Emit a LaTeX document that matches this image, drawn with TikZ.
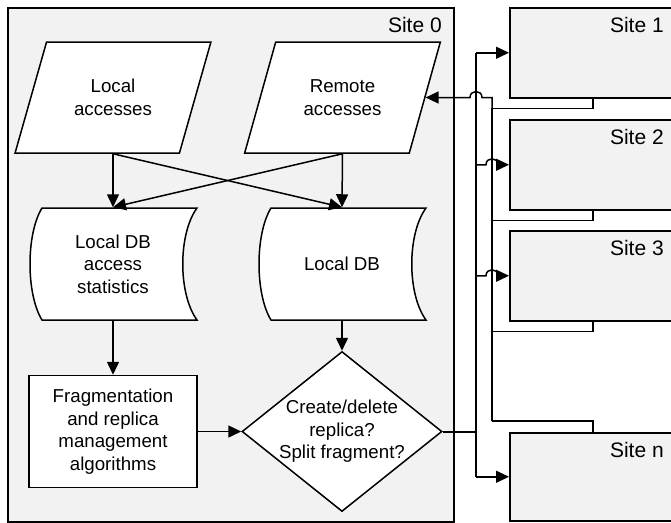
\documentclass[tikz,border=0pt]{standalone}
\usepackage{fontspec}
\setmainfont{Liberation Sans}
\usetikzlibrary{arrows.meta,calc,positioning,shapes.geometric}
\definecolor{sitefill}{HTML}{F2F2F2}

% stored-data outline, centred at (#1,#2)
\newcommand{\storeoutline}[2]{%
  \draw[fill=white] (#1-71,#2-56) -- (#1+84,#2-56)
    .. controls (#1+65,#2-30) and (#1+65,#2+30) .. (#1+84,#2+56)
    -- (#1-71,#2+56)
    .. controls (#1-87,#2+30) and (#1-87,#2-30) .. (#1-71,#2-56) -- cycle;}

\begin{document}
\begin{tikzpicture}[x=1pt,y=-1pt,>={Triangle[length=13pt,width=12pt]},line width=1.5pt,
  font=\fontsize{18.7}{22.5}\selectfont,
  every node/.style={align=center,inner sep=0pt},
  sitebox/.style={draw,fill=sitefill,minimum width=166pt,anchor=north west},
  sitelabel/.style={font=\fontsize{21}{25}\selectfont},
  io/.style={trapezium,trapezium left angle=63,trapezium right angle=117,
    trapezium stretches=true,draw,fill=white,minimum width=196pt,minimum height=111pt},
  store/.style={minimum width=167pt,minimum height=112pt},
  process/.style={draw,fill=white,minimum width=168pt,minimum height=112pt},
  decision/.style={diamond,draw,fill=white,minimum width=200pt,minimum height=160pt}]
\useasboundingbox (0,0) rectangle (671,522);
\clip (0,0) rectangle (671,522);

% sites
\node[sitebox,minimum width=446pt,minimum height=514pt] (site0) at (7,7) {};
\node[sitelabel,below left=10pt and 12pt of site0.north east] (site0-label) {Site 0};
\foreach \s/\t/\h/\n in {site1/7/90/1,site2/119/90/2,site3/230/90/3,siten/432/88/n}{
  \node[sitebox,minimum height=\h pt] (\s) at (509,\t) {};
  \node[sitelabel,below left=10pt and 12pt of \s.north east] (\s-label) {Site \n};
}

% site 0 contents
\node[io] (la) at (113,97.5) {Local\\accesses};
\node[io] (ra) at (342.5,97.5) {Remote\\accesses};
\storeoutline{113}{264}
\node[store] (stats) at (113,264) {Local DB\\access\\statistics};
\storeoutline{342}{264}
\node[store] (db) at (342,264) {Local DB};
\node[process] (frag) at (113,431.5) {Fragmentation\\and replica\\management\\algorithms};
\node[decision] (dec) at (342,431.5) {};
\node (dec-text) at (dec.center) {Create/delete\\replica?\\Split fragment?};

\draw[->] (la.center |- la.south) -- (stats.north);
\draw[->] (la.center |- la.south) -- (db.north);
\draw[->] (ra.center |- ra.south) -- (db.north);
\draw[->] (ra.center |- ra.south) -- (stats.north);
\draw[->] (stats.south) -- (frag.north);
\draw[->] (db.south) -- (dec.north);
\draw[->] (frag.east) -- (dec.west);

% buses to and from the other sites
\coordinate (outbus) at (476,0);
\coordinate (inbus) at (492,0);
\coordinate (inbus-end) at (492,421);
\draw[line width=2pt] (dec.east) -- (dec.east -| outbus);
\draw (outbus |- site1.west) -- (outbus |- siten.west);
\draw[->] (outbus |- site1.west) -- (site1.west);
\draw[->] (outbus |- siten.west) -- (siten.west);
\foreach \s in {site2,site3}
  \draw[->] (outbus |- \s.west) -- ++(10,0) .. controls +(0,-8) and +(0,-8) .. ++(12,0) -- (\s.west);
\foreach \s in {site1,site2,site3}
  \draw (\s.south) -- ++(0,10) -| (inbus-end);
\draw (siten.north) -- ++(0,-11) -| (inbus-end);
\draw[->] (inbus-end) -- (inbus |- ra.east) -- ++(-10,0) .. controls +(0,-8) and +(0,-8) .. ++(-12,0) -- (ra.east);
\end{tikzpicture}
\end{document}
